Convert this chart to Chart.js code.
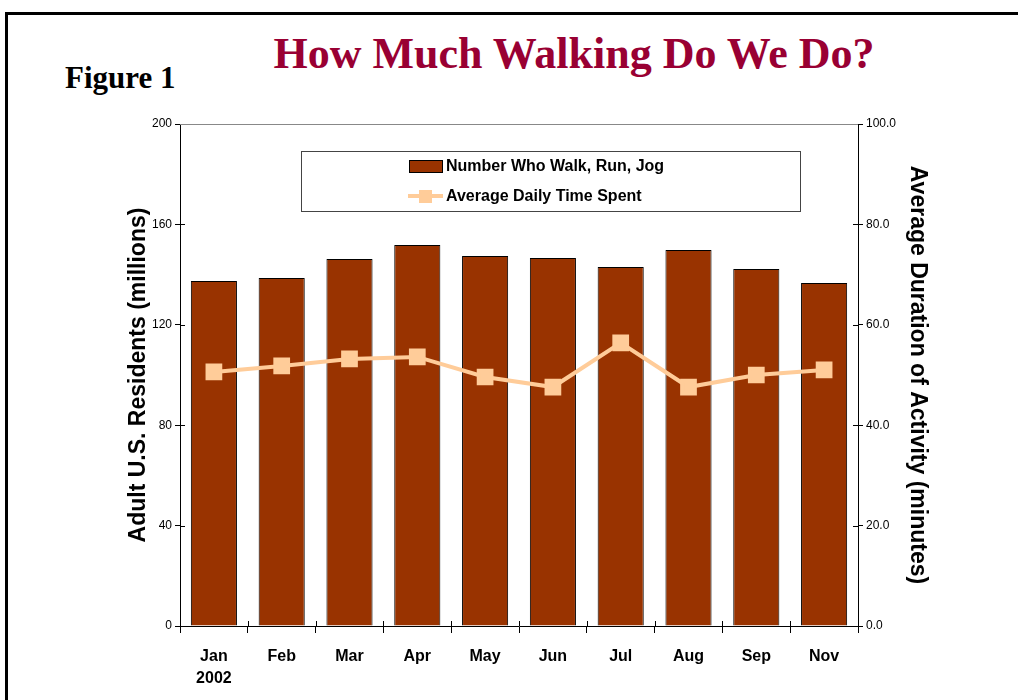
<!DOCTYPE html>
<html>
<head>
<meta charset="utf-8">
<script src="https://cdn.jsdelivr.net/npm/chart.js@4.4.1/dist/chart.umd.min.js"></script>
<style>
  html, body { margin: 0; padding: 0; background: #fff; overflow: hidden; }
  #frame { position: absolute; left: 5px; top: 12px; width: 1100px; height: 800px;
           border-left: 3px solid #000; border-top: 3px solid #000; }
  #fig { position: absolute; left: 65px; top: 60px; font: bold 31px "Liberation Serif", serif; color: #000; }
  #title { position: absolute; left: 0; width: 1148px; top: 28px; text-align: center;
           font: bold 44px "Liberation Serif", serif; color: #990033; }
  #wrap { position: absolute; left: 0; top: 0; width: 1018px; height: 700px; }
</style>
</head>
<body>
<div id="frame"></div>
<div id="fig">Figure 1</div>
<div id="title">How Much Walking Do We Do?</div>
<div id="wrap"><canvas id="myChart"></canvas></div>
<script>
// data
const months = [['Jan', '2002'], 'Feb', 'Mar', 'Apr', 'May', 'Jun', 'Jul', 'Aug', 'Sep', 'Nov'];
const walkers = [137.5, 138.6, 146.2, 151.8, 147.4, 146.6, 143.0, 149.8, 142.2, 136.7];
const minutes = [50.6, 51.8, 53.2, 53.6, 49.6, 47.6, 56.4, 47.6, 50.0, 51.0];

const ctx = document.getElementById('myChart');

// little ticks on the inner side of each axis, like the original
const crossTicks = {
  id: 'crossTicks',
  afterDraw(chart) {
    const c = chart.ctx, a = chart.chartArea;
    c.save();
    c.strokeStyle = '#000';
    c.lineWidth = 1;
    c.beginPath();
    chart.scales.y.ticks.forEach(t => {
      const p = Math.round(chart.scales.y.getPixelForValue(t.value)) + 0.5;
      c.moveTo(a.left, p); c.lineTo(a.left + 5, p);
    });
    chart.scales.y1.ticks.forEach(t => {
      const p = Math.round(chart.scales.y1.getPixelForValue(t.value)) + 0.5;
      c.moveTo(a.right, p); c.lineTo(a.right - 5, p);
    });
    const xs = chart.scales.x;
    for (let i = 0; i <= months.length; i++) {
      const p = Math.round(xs.getPixelForValue(i - 0.5)) + 0.5;
      c.moveTo(p, a.bottom); c.lineTo(p, a.bottom - 5);
    }
    c.stroke();
    // plot frame top line
    c.strokeStyle = '#888';
    c.beginPath();
    c.moveTo(a.left, a.top + 0.5); c.lineTo(a.right, a.top + 0.5);
    c.stroke();
    c.restore();
  }
};

// legend box inside the plot
const boxLegend = {
  id: 'boxLegend',
  afterDraw(chart) {
    const c = chart.ctx;
    const bar = chart.data.datasets.find(d => d.type === 'bar');
    const line = chart.data.datasets.find(d => d.type === 'line');
    c.save();
    c.fillStyle = '#fff';
    c.fillRect(301, 151, 499, 60);
    c.strokeStyle = '#444';
    c.lineWidth = 1;
    c.strokeRect(301.5, 151.5, 499, 60);
    // bar swatch
    c.fillStyle = bar.backgroundColor;
    c.fillRect(409, 160, 33, 12);
    c.strokeStyle = '#000';
    c.strokeRect(409.5, 160.5, 33, 12);
    // line swatch
    c.strokeStyle = line.borderColor;
    c.lineWidth = 4;
    c.beginPath(); c.moveTo(408, 196); c.lineTo(443, 196); c.stroke();
    c.fillStyle = line.pointBackgroundColor;
    c.fillRect(419, 190, 13, 13);
    c.fillStyle = '#000';
    c.font = 'bold 16px "Liberation Sans", Arial, sans-serif';
    c.textBaseline = 'middle';
    c.fillText(bar.label, 446, 167);
    c.fillText(line.label, 446, 197);
    c.restore();
  }
};

new Chart(ctx, {
  data: {
    labels: months,
    datasets: [
      {
        type: 'line',
        label: 'Average Daily Time Spent',
        data: minutes,
        yAxisID: 'y1',
        borderColor: '#FFCC99',
        backgroundColor: '#FFCC99',
        pointBackgroundColor: '#FFCC99',
        pointBorderColor: '#FFCC99',
        borderWidth: 4,
        pointStyle: 'rect',
        pointRadius: 9,
        tension: 0,
        order: 0
      },
      {
        type: 'bar',
        label: 'Number Who Walk, Run, Jog',
        data: walkers,
        yAxisID: 'y',
        backgroundColor: '#993300',
        borderColor: '#000',
        borderWidth: 1,
        barPercentage: 0.68,
        categoryPercentage: 1,
        order: 1
      }
    ]
  },
  options: {
    responsive: true,
    maintainAspectRatio: false,
    animation: false,
    layout: { padding: { top: 124, left: 125, right: 87, bottom: 0 } },
    plugins: { legend: { display: false }, tooltip: { enabled: false } },
    scales: {
      x: {
        offset: true,
        grid: { display: true, drawOnChartArea: false, offset: true, color: '#000', tickLength: 7 },
        border: { color: '#000' },
        ticks: { color: '#000', font: { family: '"Liberation Sans", Arial', size: 16, weight: 'bold', lineHeight: 1.4 },
                 padding: 12, maxRotation: 0 },
        afterFit(s) { s.height = 74; }
      },
      y: {
        position: 'left',
        min: 0, max: 200,
        ticks: { stepSize: 40, color: '#000', font: { family: '"Liberation Sans", Arial', size: 12 }, padding: 3 },
        grid: { drawOnChartArea: false, color: '#000', tickLength: 5 },
        border: { color: '#000' },
        title: { display: true, text: 'Adult U.S. Residents (millions)', color: '#000',
                 font: { family: '"Liberation Sans", Arial', size: 23, weight: 'bold' }, padding: 0 },
        afterFit(s) { s.width = 55; }
      },
      y1: {
        position: 'right',
        min: 0, max: 100,
        ticks: { stepSize: 20, color: '#000', font: { family: '"Liberation Sans", Arial', size: 12 }, padding: 3,
                 callback: v => v.toFixed(1) },
        grid: { drawOnChartArea: false, color: '#000', tickLength: 5 },
        border: { color: '#000' },
        title: { display: true, text: 'Average Duration of Activity (minutes)', color: '#000',
                 font: { family: '"Liberation Sans", Arial', size: 23, weight: 'bold' }, padding: 0 },
        afterFit(s) { s.width = 73; }
      }
    }
  },
  plugins: [crossTicks, boxLegend]
});
</script>
</body>
</html>
